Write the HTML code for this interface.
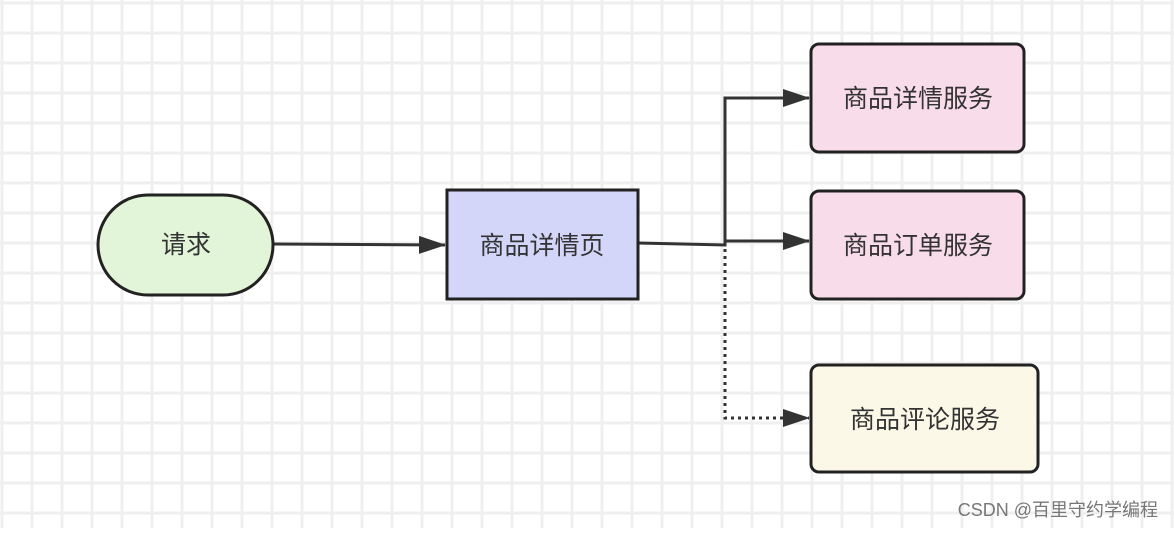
<!DOCTYPE html>
<html><head><meta charset="utf-8"><style>
html,body{margin:0;padding:0;background:#fff}
svg text{font-family:"Liberation Sans","Noto Sans CJK SC",sans-serif}
</style></head><body>
<svg width="1174" height="528" viewBox="0 0 1174 528" xmlns="http://www.w3.org/2000/svg">
<defs>
<pattern id="g" x="0.5" y="1.5" width="30" height="30" patternUnits="userSpaceOnUse">
<path d="M0 1.5H30M1.5 0V30" stroke="#efefef" stroke-width="3" fill="none"/>
</pattern>
<marker id="a" markerWidth="28" markerHeight="20" refX="26" refY="10" orient="auto" markerUnits="userSpaceOnUse">
<path d="M0 1L27 10L0 19Z" fill="#333"/>
</marker>
</defs>
<rect width="1174" height="528" fill="url(#g)"/>
<g stroke="#333" stroke-width="3" fill="none">
<path d="M273 244L445 245" marker-end="url(#a)"/>
<path d="M638 243L725 245V98H809" marker-end="url(#a)"/>
<path d="M725 241H809" marker-end="url(#a)"/>
<path d="M725 249V418H809" stroke-dasharray="3 4" marker-end="url(#a)"/>
</g>
<rect x="98" y="195" width="175" height="100" rx="50" fill="#e3f5d8" stroke="#222" stroke-width="3"/>
<rect x="447" y="190" width="191" height="109" fill="#d3d6f8" stroke="#222" stroke-width="3"/>
<rect x="811" y="44" width="213" height="108" rx="8" fill="#f9dcea" stroke="#222" stroke-width="3"/>
<rect x="811" y="191" width="213" height="108" rx="8" fill="#f9dcea" stroke="#222" stroke-width="3"/>
<rect x="811" y="365" width="227" height="107" rx="8" fill="#fbf8e8" stroke="#222" stroke-width="3"/>
<g font-size="25" fill="#333" text-anchor="middle">
<text x="186" y="253">请求</text>
<text x="542" y="254">商品详情页</text>
<text x="918" y="107">商品详情服务</text>
<text x="918" y="254">商品订单服务</text>
<text x="925" y="428">商品评论服务</text>
</g>
<text x="1158" y="516" font-size="18" fill="#777" text-anchor="end">CSDN @百里守约学编程</text>
</svg>
</body></html>
